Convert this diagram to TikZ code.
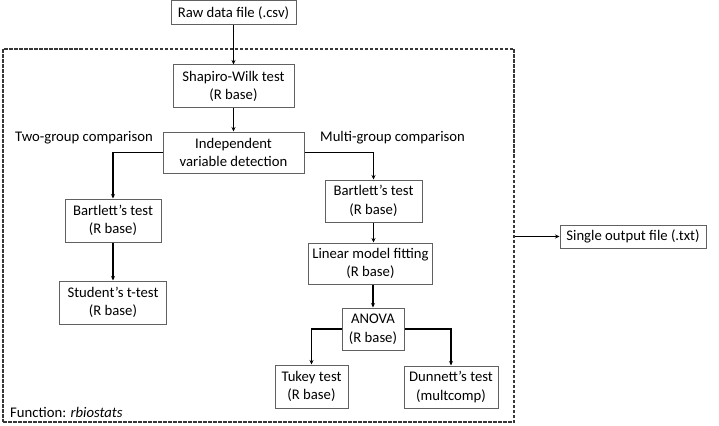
\documentclass[tikz,border=0pt]{standalone}
\usepackage{fontspec}
\setmainfont{Carlito}
\usetikzlibrary{arrows.meta}
\begin{document}
\begin{tikzpicture}[x=1pt,y=-1pt,
  font=\fontsize{14.7}{18.5}\selectfont,
  box/.style={draw=black!62, line width=1pt, align=center, inner sep=0pt},
  conn/.style={line width=1.1pt, -{Stealth[length=4.5pt,width=4pt]}},
  lbl/.style={inner sep=0pt}]
\useasboundingbox (0,0) rectangle (719,425);
\node[box, minimum width=125pt, minimum height=24pt] (raw) at (233.5,13) {Raw data file (.csv)};
\node[box, minimum width=121pt, minimum height=43pt] (shap) at (233.5,86.5) {Shapiro-Wilk test\\(R base)};
\node[box, minimum width=141pt, minimum height=41pt] (ind) at (233.5,152.5) {Independent\\variable detection};
\node[box, minimum width=96pt, minimum height=43pt] (bartL) at (113,220.5) {Bartlett’s test\\(R base)};
\node[box, minimum width=107pt, minimum height=43pt] (stud) at (113,302.5) {Student’s t-test\\(R base)};
\node[box, minimum width=97pt, minimum height=42pt] (bartR) at (373.5,201) {Bartlett’s test\\(R base)};
\node[box, minimum width=124pt, minimum height=41pt] (lin) at (370.5,263.5) {Linear model fitting\\(R base)};
\node[box, minimum width=62pt, minimum height=42pt] (anova) at (373,329) {ANOVA\\(R base)};
\node[box, minimum width=73pt, minimum height=43pt] (tukey) at (311.5,386.5) {Tukey test\\(R base)};
\node[box, minimum width=94pt, minimum height=42pt] (dun) at (451,387) {Dunnett’s test\\(multcomp)};
\node[box, minimum width=146pt, minimum height=23pt] (out) at (633,236.5) {Single output file (.txt)};
\node[draw=black!78, line width=1.2pt, dash pattern=on 3.5pt off 1.5pt, minimum width=511pt, minimum height=373pt, inner sep=0pt] (fn) at (258.5,235.5) {};
\node[lbl] (two) at (84,138) {Two-group comparison};
\node[lbl, anchor=west] (multi) at (320,138) {Multi-group comparison};
\node[lbl, anchor=west] (fname) at (10,412) {Function: \textit{rbiostats}};
\draw[conn] (raw) -- (shap);
\draw[conn] (shap) -- (ind);
\draw[conn] (ind.west) -| (bartL.north);
\draw[conn] (ind.east) -| (bartR.north);
\draw[conn] (bartL) -- (stud);
\draw[conn] (bartR.south) -- (bartR.south |- lin.north);
\draw[conn] (lin.south -| anova.north) -- (anova.north);
\draw[conn] (anova.west) -| (tukey.north);
\draw[conn] (anova.east) -| (dun.north);
\draw[conn] (fn.east |- out.west) -- (out.west);
\end{tikzpicture}
\end{document}
